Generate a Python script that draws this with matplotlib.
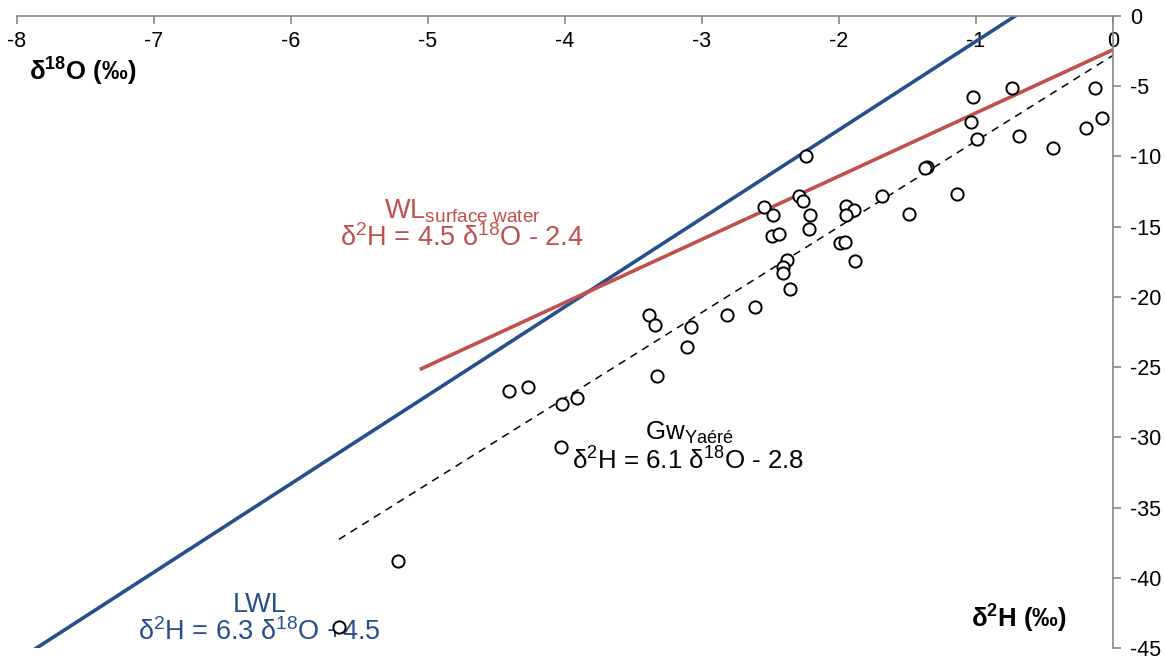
import numpy as np
import matplotlib
matplotlib.use('Agg')
import matplotlib.pyplot as plt

plt.rcParams['font.family'] = ['Liberation Sans', 'DejaVu Sans']
plt.rcParams['mathtext.fontset'] = 'custom'
plt.rcParams['mathtext.rm'] = 'Liberation Sans'
plt.rcParams['mathtext.it'] = 'Liberation Sans:italic'
plt.rcParams['mathtext.bf'] = 'Liberation Sans:bold'
plt.rcParams['axes.unicode_minus'] = False

# groundwater samples (d18O, d2H)
d18o = [-0.74, -0.13, -1.02, -0.08, -0.20, -1.04, -0.99, -0.69, -0.44, -2.24,
        -1.36, -1.37, -1.14, -1.69, -2.29, -2.26, -2.55, -1.95, -1.89, -2.48,
        -2.21, -1.95, -1.49, -2.22, -2.49, -2.44, -1.99, -1.96, -1.88, -2.38,
        -2.41, -2.41, -2.36, -2.61, -3.39, -3.34, -2.82, -3.08, -3.11, -3.33,
        -4.41, -4.27, -4.02, -3.91, -4.03, -5.22, -5.65]
d2h = [-5.10, -5.15, -5.79, -7.29, -7.95, -7.53, -8.76, -8.52, -9.38, -9.99,
       -10.78, -10.85, -12.7, -12.8, -12.82, -13.2, -13.58, -13.53, -13.84, -14.15,
       -14.17, -14.17, -14.1, -15.15, -15.67, -15.53, -16.19, -16.12, -17.45, -17.38,
       -17.9, -18.33, -19.42, -20.7, -21.32, -22.0, -21.27, -22.17, -23.58, -25.6,
       -26.7, -26.45, -27.66, -27.2, -30.68, -38.8, -43.5]

# regression lines: slope, intercept, x range
lwl = (6.3, 4.5, -8.0, 0.0)
wl_surface = (4.5, -2.4, -5.06, 0.0)
gw_yaere = (6.1, -2.8, -5.65, 0.0)

blue = '#25508C'
red = '#C0504D'

fig = plt.figure(figsize=(11.65, 6.61), dpi=100)
ax = fig.add_axes([0.0146, 0.0197, 0.9408, 0.9561])

def draw_line(p, **kw):
    xs = np.array([p[2], p[3]])
    ax.plot(xs, p[0] * xs + p[1], **kw)

draw_line(lwl, color=blue, lw=2.6, solid_capstyle='butt')
draw_line(wl_surface, color=red, lw=2.6, solid_capstyle='butt')
draw_line(gw_yaere, color='black', lw=1.1, ls=(0, (5, 4)))

ax.plot(d18o, d2h, 'o', mfc='white', mec='black', ms=8.8, mew=1.4, zorder=5)

ax.set_xlim(-8, 0)
ax.set_ylim(-45, 0)
ax.set_xticks(range(-8, 1))
ax.set_yticks(range(-45, 1, 5))

ax.spines['left'].set_visible(False)
ax.spines['top'].set_visible(False)
ax.spines['bottom'].set_position(('data', 0))
ax.spines['bottom'].set_color('#888888')
ax.spines['right'].set_color('#888888')
ax.spines['bottom'].set_linewidth(1.2)
ax.spines['right'].set_linewidth(1.2)
ax.yaxis.tick_right()
ax.tick_params(axis='both', direction='out', length=6, width=1.2, color='#888888',
               labelsize=15.5, labelcolor='black')
ax.tick_params(axis='x', pad=5)
ax.tick_params(axis='y', pad=6)

ax.text(-4.75, -13.9, r'WL$_{\mathrm{surface\ water}}$', color=red, fontsize=19.5,
        ha='center', va='center')
ax.text(-4.75, -15.8, r'δ$^{2}$H = 4.5 δ$^{18}$O - 2.4', color=red, fontsize=19.5,
        ha='center', va='center')
ax.text(-3.09, -29.7, r'Gw$_{\mathrm{Yaéré}}$', color='black', fontsize=18.6,
        ha='center', va='center')
ax.text(-3.10, -31.7, r'δ$^{2}$H = 6.1 δ$^{18}$O - 2.8', color='black', fontsize=18.6,
        ha='center', va='center')
ax.text(-6.23, -41.95, 'LWL', color=blue, fontsize=19.5, ha='center', va='center')
ax.text(-6.23, -43.9, r'δ$^{2}$H = 6.3 δ$^{18}$O +4.5', color=blue, fontsize=19.5,
        ha='center', va='center')

ax.text(-7.52, -4.0, r'δ$^{\mathbf{18}}$O (‰)', fontsize=18.5, fontweight='bold',
        ha='center', va='center')
ax.text(-0.69, -42.9, r'δ$^{\mathbf{2}}$H (‰)', fontsize=18.5, fontweight='bold',
        ha='center', va='center')

fig.savefig('out.png', dpi=100)
